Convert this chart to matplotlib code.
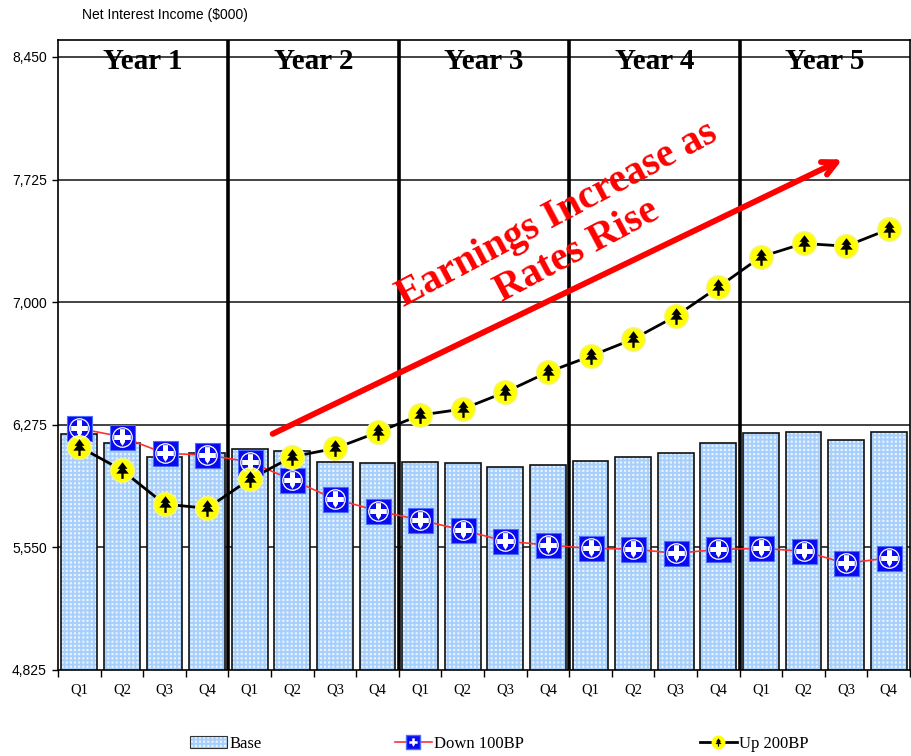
import matplotlib
matplotlib.use("Agg")
import matplotlib.pyplot as plt
from matplotlib.patches import Patch
from matplotlib.lines import Line2D
from matplotlib.path import Path
from matplotlib.legend_handler import HandlerTuple

# ---- data -------------------------------------------------------------
quarters = ["Q1", "Q2", "Q3", "Q4"] * 5
years = ["Year 1", "Year 2", "Year 3", "Year 4", "Year 5"]
base = [6220, 6168, 6086, 6106, 6129, 6119, 6056, 6046, 6056, 6048,
        6025, 6037, 6062, 6086, 6111, 6168, 6224, 6232, 6184, 6232]
down_100bp = [6253, 6204, 6106, 6096, 6056, 5948, 5836, 5766, 5712, 5652,
              5587, 5564, 5544, 5540, 5515, 5538, 5544, 5528, 5455, 5489]
up_200bp = [6145, 6007, 5806, 5781, 5952, 6086, 6135, 6230, 6332, 6368,
            6468, 6586, 6681, 6781, 6917, 7089, 7268, 7347, 7331, 7431]
y_ticks = [4825, 5550, 6275, 7000, 7725, 8450]

serif = "Liberation Serif"
sans = "Liberation Sans"

# ---- custom marker glyphs --------------------------------------------
down_glyph = Path([(-0.3, 1), (0.3, 1), (0.3, 0.3), (1, 0.3), (1, -0.3),
                   (0.3, -0.3), (0.3, -0.55), (0, -1), (-0.3, -0.55),
                   (-0.3, -0.3), (-1, -0.3), (-1, 0.3), (-0.3, 0.3),
                   (-0.3, 1)], closed=True)
up_glyph = Path([(0, 1), (0.6, 0.2), (0.28, 0.2), (0.75, -0.38),
                 (0.14, -0.38), (0.14, -1), (-0.14, -1), (-0.14, -0.38),
                 (-0.75, -0.38), (-0.28, 0.2), (-0.6, 0.2), (0, 1)],
                closed=True)

fig = plt.figure(figsize=(9.11, 7.56), dpi=100)
ax = fig.add_axes([58 / 911, 86 / 756, 852 / 911, 630 / 756])

x = list(range(len(base)))
ax.set_xlim(-0.5, len(base) - 0.5)
ax.set_ylim(4825, 8550)

# horizontal grid
for t in y_ticks[1:]:
    ax.axhline(t, color="#222222", lw=1.2, zorder=1)

# bars: checkered fill, then black outline
plt.rcParams["hatch.linewidth"] = 1.4
bar_face, bar_hatch, bar_pat = "#eaf4ff", "#a6d0fb", "++++"
ax.bar(x, base, width=0.84, color=bar_face, edgecolor=bar_hatch,
       hatch=bar_pat, linewidth=0, zorder=2)
ax.bar(x, base, width=0.84, fill=False, edgecolor="#111111",
       linewidth=1.2, zorder=2.1)

# year separators
for b in [3.5, 7.5, 11.5, 15.5]:
    ax.axvline(b, color="black", lw=2.6, zorder=3)
for i, yl in enumerate(years):
    ax.text(4 * i + 1.5, 8420, yl, ha="center", va="center",
            fontfamily=serif, fontweight="bold", fontsize=21, zorder=6)

# Down 100BP series
ax.plot(x, down_100bp, color="#ff3030", lw=1.2, zorder=4)
ax.plot(x, down_100bp, ls="none", marker="s", ms=18, mfc="#0a0af0",
        mec="#4a6cff", mew=0.8, zorder=5)
ax.plot(x, down_100bp, ls="none", marker="o", ms=14, mfc="none",
        mec="white", mew=0.9, zorder=5.1)
ax.plot(x, down_100bp, ls="none", marker=down_glyph, ms=12, mfc="white",
        mec="white", mew=0, zorder=5.2)

# Up 200BP series
ax.plot(x, up_200bp, color="black", lw=2, zorder=4)
ax.plot(x, up_200bp, ls="none", marker="o", ms=17, mfc="#ffff00",
        mec="#f4f48a", mew=1, zorder=5)
ax.plot(x, up_200bp, ls="none", marker=up_glyph, ms=12, mfc="black",
        mec="black", mew=0, zorder=5.2)

# trend arrow and label
ax.annotate("", xy=(17.97, 7851), xytext=(4.48, 6214),
            arrowprops=dict(arrowstyle="->,head_length=1.0,head_width=0.5",
                            color="#ff0000", lw=4.2),
            zorder=6)
ax.text(11.45, 7410, "Earnings Increase as\nRates Rise", color="#ff0000",
        fontfamily=serif, fontweight="bold", fontsize=29, rotation=28,
        rotation_mode="anchor", ha="center", va="center",
        multialignment="center", linespacing=1.15, zorder=6)

# axes styling
ax.set_yticks(y_ticks)
ax.set_yticklabels([f"{v:,}" for v in y_ticks], fontfamily=sans, fontsize=10)
ax.set_xticks([i - 0.5 for i in range(len(base) + 1)])
ax.set_xticklabels([])
ax.set_xticks(x, minor=True)
ax.set_xticklabels(quarters, minor=True, fontfamily=serif, fontsize=10.5)
ax.tick_params(axis="x", which="major", length=5, width=1, direction="out")
ax.tick_params(axis="x", which="minor", length=0, pad=10)
ax.tick_params(axis="y", length=4, width=1, pad=4)
for s in ax.spines.values():
    s.set_color("black")
    s.set_linewidth(1.2)

fig.text(82 / 911, 1 - 15 / 756, "Net Interest Income ($000)",
         fontfamily=sans, fontsize=10, ha="left", va="center")

# legend
h_base = (Patch(facecolor=bar_face, edgecolor=bar_hatch, hatch=bar_pat, lw=0),
          Patch(fill=False, edgecolor="#333333", lw=0.8))
h_down = (Line2D([], [], color="#ff3030", lw=1.2),
          Line2D([], [], ls="none", marker="s", ms=10, mfc="#0a0af0", mec="#4a6cff"),
          Line2D([], [], ls="none", marker=down_glyph, ms=6, mfc="white",
                 mec="white", mew=0))
h_up = (Line2D([], [], color="black", lw=2),
        Line2D([], [], ls="none", marker="o", ms=9, mfc="#ffff00", mec="#ffff00"),
        Line2D([], [], ls="none", marker=up_glyph, ms=6, mfc="black",
               mec="black", mew=0))

for h, lab, xpos in [(h_base, "Base", 190), (h_down, "Down 100BP", 395),
                     (h_up, "Up 200BP", 700)]:
    fig.legend([h], [lab], loc="center left",
               bbox_to_anchor=(xpos / 911, 12 / 756), frameon=False,
               handler_map={tuple: HandlerTuple(ndivide=1, pad=0)},
               handlelength=2.2, handletextpad=0.15, borderpad=0,
               borderaxespad=0, prop={"family": serif, "size": 12})

fig.savefig("out.png", dpi=100)
